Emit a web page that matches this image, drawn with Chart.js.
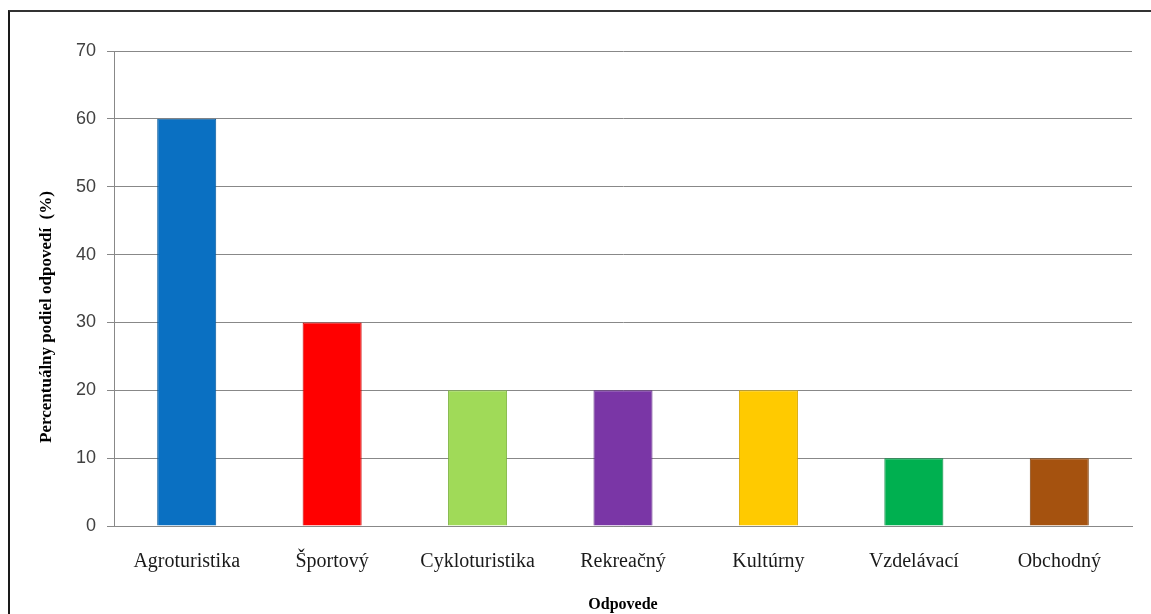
<!DOCTYPE html>
<html>
<head>
<meta charset="utf-8">
<script src="https://cdn.jsdelivr.net/npm/chart.js@4"></script>
<style>
  html, body { margin: 0; padding: 0; background: #fff; }
  #wrap { position: relative; width: 1151px; height: 614px; overflow: hidden; }
  #frame { position: absolute; left: 8px; top: 10px; width: 1300px; height: 800px;
           border-left: 2px solid #1a1a1a; border-top: 2px solid #333; box-sizing: border-box; }
  canvas { position: absolute; left: 0; top: 0; }
</style>
</head>
<body>
<div id="wrap">
  <div id="frame"></div>
  <canvas id="c" width="1151" height="614"></canvas>
</div>
<script>
const categories = ['Agroturistika', 'Športový', 'Cykloturistika', 'Rekreačný', 'Kultúrny', 'Vzdelávací', 'Obchodný'];
const values = [60, 30, 20, 20, 20, 10, 10];
const barColors = ['#0A70C2', '#FF0000', '#A0DA58', '#7A36A6', '#FFCA00', '#00B050', '#A5520F'];
const edgeColors = ['#075A9C', '#C80000', '#7FB543', '#5E2682', '#D9A800', '#008A3E', '#7E3E0A'];
const yTitle = 'Percentuálny podiel odpovedí  (%)';
const xTitle = 'Odpovede';

function bevelFill(ctx) {
  const i = ctx.dataIndex;
  const el = ctx.element;
  const chart = ctx.chart;
  if (!el || el.width === undefined || !chart.chartArea) return barColors[i];
  const x0 = el.x - el.width / 2, x1 = el.x + el.width / 2;
  const g = chart.ctx.createLinearGradient(x0, 0, x1, 0);
  g.addColorStop(0, edgeColors[i]);
  g.addColorStop(0.06, barColors[i]);
  g.addColorStop(0.9, barColors[i]);
  g.addColorStop(1, edgeColors[i]);
  return g;
}

const yTitlePlugin = {
  id: 'yTitle',
  afterDraw(chart) {
    const c = chart.ctx;
    c.save();
    c.translate(47, 317);
    c.rotate(-Math.PI / 2);
    c.font = 'bold 17px "Liberation Serif", "Times New Roman", serif';
    c.fillStyle = '#000';
    c.textAlign = 'center';
    c.textBaseline = 'middle';
    c.fillText(yTitle, 0, 0);
    c.restore();
  }
};

new Chart(document.getElementById('c'), {
  type: 'bar',
  data: {
    labels: categories,
    datasets: [{
      data: values,
      backgroundColor: bevelFill,
      borderColor: edgeColors,
      borderWidth: 1,
      barPercentage: 0.5,
      categoryPercentage: 0.812
    }]
  },
  options: {
    responsive: false,
    animation: false,
    devicePixelRatio: 1,
    layout: { padding: { top: 51, right: 19, bottom: 0, left: 0 } },
    plugins: { legend: { display: false }, tooltip: { enabled: false }, title: { display: false } },
    scales: {
      x: {
        grid: { display: true, drawOnChartArea: false, drawTicks: false },
        border: { display: true, color: '#888', width: 1 },
        ticks: {
          color: '#1a1a1a',
          padding: 24,
          maxRotation: 0,
          font: { family: '"Liberation Serif", "Times New Roman", serif', size: 20 }
        },
        title: {
          display: true,
          text: xTitle,
          color: '#000',
          padding: { top: 0, bottom: 0 },
          font: { family: '"Liberation Serif", "Times New Roman", serif', size: 16, weight: 'bold' }
        },
        afterFit(s) { s.height = 614 - 526; }
      },
      y: {
        min: 0,
        max: 70,
        ticks: {
          stepSize: 10,
          color: '#404040',
          padding: 11,
          font: { family: '"Liberation Sans", Arial, sans-serif', size: 18 }
        },
        grid: { color: '#888', lineWidth: 1, drawTicks: true, tickLength: 7, tickColor: '#888' },
        border: { display: true, color: '#888', width: 1 },
        afterFit(s) { s.width = 114; }
      }
    }
  },
  plugins: [yTitlePlugin]
});
</script>
</body>
</html>
